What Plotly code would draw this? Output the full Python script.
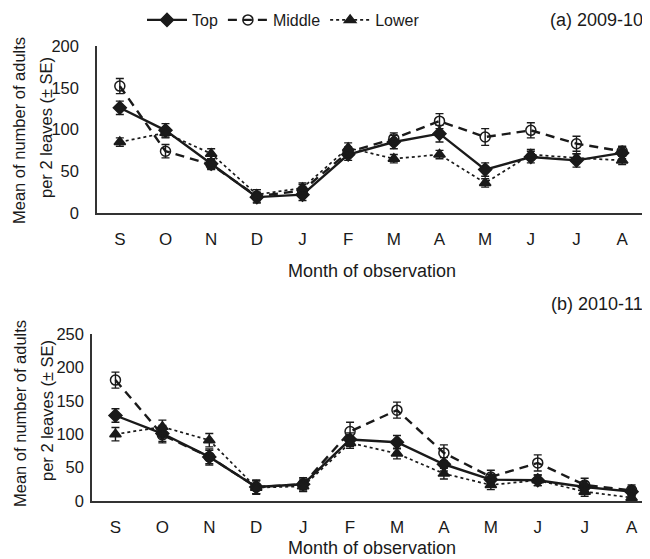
import plotly.graph_objects as go

months = ["S", "O", "N", "D", "J", "F", "M", "A", "M", "J", "J", "A"]
xpos = list(range(12))

# (a) 2009-10
a_top = [126, 99, 59, 19, 22, 70, 85, 95, 52, 67, 63, 72]
a_top_se = [8, 8, 6, 6, 7, 7, 8, 10, 8, 7, 8, 7]
a_mid = [152, 74, 58, 20, 27, 73, 89, 110, 91, 99, 83, 74]
a_mid_se = [9, 8, 6, 8, 7, 6, 7, 9, 10, 9, 9, 6]
a_low = [85, 96, 71, 22, 30, 78, 65, 70, 36, 70, 66, 63]
a_low_se = [5, 6, 6, 6, 6, 6, 5, 5, 5, 6, 5, 5]

# (b) 2010-11
b_top = [128, 101, 66, 21, 25, 92, 88, 55, 32, 31, 21, 14]
b_top_se = [10, 12, 12, 10, 8, 10, 10, 10, 8, 8, 8, 7]
b_mid = [181, 99, 66, 21, 25, 104, 136, 72, 36, 57, 24, 16]
b_mid_se = [12, 12, 10, 10, 10, 14, 12, 12, 10, 12, 10, 8]
b_low = [100, 111, 91, 20, 22, 87, 71, 41, 24, 31, 14, 5]
b_low_se = [10, 10, 10, 10, 8, 8, 8, 8, 7, 8, 7, 4]

INK = "#1a1a1a"
TICKF = "Liberation Sans Narrow, Arial Narrow, Liberation Sans, Arial, sans-serif"
SANS = "Liberation Sans, Arial, sans-serif"

styles = {
    "Top": dict(dash="solid", width=2.4, symbol="diamond", size=10),
    "Middle": dict(dash="9px,6px", width=2.4, symbol="circle-open", size=10),
    "Lower": dict(dash="dot", width=1.7, symbol="triangle-up", size=10),
}

fig = go.Figure()

def add(name, y, se, xa, ya, show):
    s = styles[name]
    fig.add_trace(go.Scatter(
        x=xpos, y=y, name=name, mode="lines+markers",
        xaxis=xa, yaxis=ya, showlegend=show, legendgroup=name,
        line=dict(color=INK, width=s["width"], dash=s["dash"]),
        marker=dict(symbol=s["symbol"], size=s["size"], color=INK,
                    line=dict(color=INK, width=1.5)),
        error_y=dict(type="data", array=se, visible=True, color=INK,
                     thickness=1.4, width=4),
    ))

add("Top", a_top, a_top_se, "x", "y", True)
add("Middle", a_mid, a_mid_se, "x", "y", True)
add("Lower", a_low, a_low_se, "x", "y", True)
add("Top", b_top, b_top_se, "x2", "y2", False)
add("Middle", b_mid, b_mid_se, "x2", "y2", False)
add("Lower", b_low, b_low_se, "x2", "y2", False)

# page body has an 8px margin: figure sits at (8, 8) in the window
OX, OY = 8, 8
W, H = 650 - OX, 559 - OY

def px_x(p):
    return (p - OX) / W

def px_y(p):
    return 1 - (p - OY) / H

axis_common = dict(showline=True, linecolor="#333", linewidth=1.5, ticks="",
                   showgrid=False, zeroline=False, mirror=False, automargin=False)

fig.update_layout(
    width=W, height=H,
    margin=dict(l=0, r=0, t=0, b=0, autoexpand=False),
    paper_bgcolor="white", plot_bgcolor="white",
    font=dict(family=SANS, size=17, color=INK),
    xaxis=dict(domain=[px_x(97), px_x(645)], range=[-0.5, 11.5],
               tickvals=xpos, ticktext=months, anchor="y",
               tickfont=dict(family=TICKF, size=17), ticklabelstandoff=10,
               **axis_common),
    yaxis=dict(domain=[px_y(213), px_y(46)], range=[0, 200],
               tickvals=[0, 50, 100, 150, 200], anchor="x",
               tickfont=dict(family=TICKF, size=16.5), ticklabelstandoff=13,
               **axis_common),
    xaxis2=dict(domain=[px_x(92), px_x(648)], range=[-0.5, 11.35],
                tickvals=xpos, ticktext=months, anchor="y2",
                tickfont=dict(family=TICKF, size=17), ticklabelstandoff=10,
                **axis_common),
    yaxis2=dict(domain=[px_y(501), px_y(334)], range=[0, 250],
                tickvals=[0, 50, 100, 150, 200, 250], anchor="x2",
                tickfont=dict(family=TICKF, size=16.5), ticklabelstandoff=3,
                **axis_common),
    legend=dict(orientation="h", x=px_x(142), y=px_y(3), xanchor="left",
                yanchor="top", font=dict(family=SANS, size=16),
                bgcolor="rgba(0,0,0,0)", itemwidth=40, tracegroupgap=0),
    showlegend=True,
)

ann = [
    dict(text="(a) 2009-10", x=px_x(645), y=px_y(20), xanchor="right", yanchor="middle",
         font=dict(size=18)),
    dict(text="(b) 2010-11", x=px_x(645), y=px_y(304), xanchor="right", yanchor="middle",
         font=dict(size=18)),
    dict(text="Month of observation", x=px_x(372), y=px_y(271), xanchor="center",
         yanchor="middle", font=dict(size=18)),
    dict(text="Month of observation", x=px_x(372), y=px_y(548), xanchor="center",
         yanchor="middle", font=dict(size=18)),
    dict(text="Mean of number of adults", x=px_x(19), y=px_y(131), textangle=-90,
         xanchor="center", yanchor="middle", font=dict(size=16.5)),
    dict(text="per 2 leaves (± SE)", x=px_x(46), y=px_y(128), textangle=-90,
         xanchor="center", yanchor="middle", font=dict(size=16.5)),
    dict(text="Mean of number of adults", x=px_x(20), y=px_y(414), textangle=-90,
         xanchor="center", yanchor="middle", font=dict(size=16.5)),
    dict(text="per 2 leaves (± SE)", x=px_x(47), y=px_y(411), textangle=-90,
         xanchor="center", yanchor="middle", font=dict(size=16.5)),
]
for a in ann:
    a.update(xref="paper", yref="paper", showarrow=False)
fig.update_layout(annotations=ann)

fig.write_html("out.html")
